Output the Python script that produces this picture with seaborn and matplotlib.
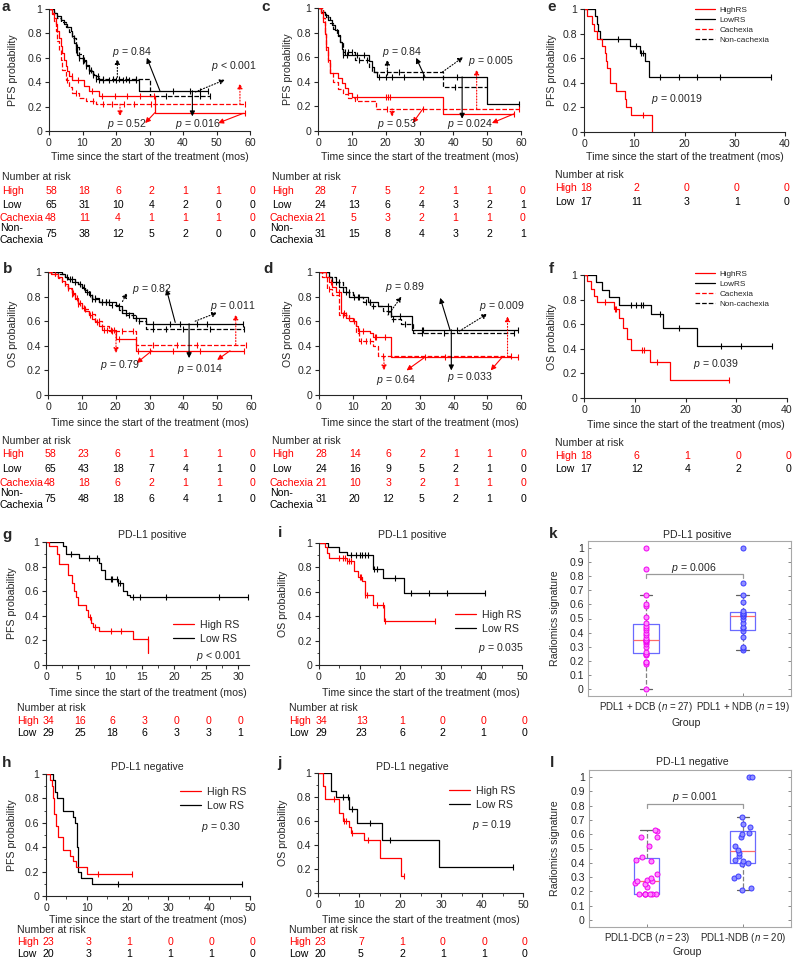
import numpy as np
import pandas as pd
import seaborn as sns
import matplotlib.pyplot as plt
from matplotlib.lines import Line2D
from matplotlib.transforms import blended_transform_factory, ScaledTranslation

# ---------------- data ----------------
# KM curve = (step times, survival after each step, last follow-up, censor times)
a_high = ([0, 1, 1.5, 2, 2.5, 3, 3.5, 4, 4.5, 5, 5.5, 6, 7, 10.5, 12, 15, 31.5],
          [1, .97, .93, .88, .82, .76, .70, .64, .58, .53, .49, .45, .42, .37, .33, .29, .145],
          58.5, [6.8, 8.7, 12.7, 15.7, 19.7, 23.2, 27.2, 31.3, 58.5])
a_cach = ([0, 1, 1.5, 2, 2.5, 3, 3.5, 4, 5, 6, 7, 9, 11, 14],
          [1, .96, .9, .82, .74, .66, .58, .5, .42, .36, .31, .27, .25, .22],
          58.5, [5.5, 8, 13, 16, 18.9, 22.4, 25.4, 30.4, 58.5])
a_low = ([0, 1.5, 2.5, 3.5, 4.5, 5.5, 6.5, 7, 7.5, 8, 8.5, 9, 10, 11, 12, 13, 14, 15, 27],
         [1, .97, .94, .91, .88, .85, .82, .78, .72, .66, .62, .6, .57, .53, .49, .46, .43, .415, .33],
         47.5, [8, 9, 10, 11, 12, 13, 14, 15, 16, 18, 20, 22, 24, 26, 37, 42, 45, 47.5])
a_non = ([0, 1.5, 2.5, 3.5, 5, 6, 7, 8, 9, 10, 11, 12, 13, 14, 15, 30],
         [1, .97, .93, .89, .85, .81, .76, .69, .63, .58, .54, .5, .47, .45, .43, .29],
         48, [7.5, 8.5, 10.5, 12.5, 14.5, 16, 19, 21, 23, 26, 35, 45, 48])

b_high = ([0, 1, 3, 4, 5, 6, 7, 8, 9, 10, 11, 12, 13, 14, 15, 16, 20, 26],
          [1, .98, .96, .93, .9, .87, .83, .79, .75, .71, .68, .65, .62, .59, .56, .53, .455, .36],
          58, [6, 7.5, 8.5, 9.5, 10.5, 12.5, 14.5, 16.5, 17.5, 18.5, 19.5, 21, 26.5, 30, 37, 45, 58])
b_cach = ([0, 2, 3, 4, 5, 6, 7, 8, 9, 10, 12, 14, 16, 18, 26],
          [1, .97, .95, .92, .89, .86, .82, .78, .74, .7, .66, .6, .56, .52, .41],
          58.5, [7, 9, 11, 13, 15, 19, 22, 25, 31, 38, 44, 58.5])
b_low = ([0, 4, 5, 6, 8, 9, 10, 11, 12, 13, 15, 20, 22, 25, 29],
         [1, .98, .96, .94, .92, .9, .87, .84, .81, .78, .76, .72, .67, .63, .58],
         57.5, [5.5, 7, 9.5, 11.5, 13, 14, 16, 17, 18, 21, 23, 26, 31, 36, 39, 44, 47, 57.5])
b_non = ([0, 3, 5, 6, 7, 9, 10, 11, 12, 13, 15, 18, 21, 23, 26, 29],
         [1, .98, .96, .94, .92, .9, .88, .85, .82, .79, .76, .73, .69, .65, .6, .54],
         58, [6.5, 8, 10.5, 12.5, 14, 16, 17, 19, 22, 24, 27, 31, 35, 40, 48, 58])

c_high = ([0, 1, 1.5, 2, 2.5, 3, 3.5, 6, 7, 8, 9, 10, 37],
          [1, .96, .89, .79, .68, .58, .47, .43, .39, .35, .31, .28, .14],
          58, [11.4, 20.2, 20.7, 21.2, 58])
c_cach = ([0, 1.5, 2, 2.5, 3, 3.5, 4.5, 6, 7.5, 9, 11, 17],
          [1, .92, .8, .66, .55, .47, .4, .34, .3, .27, .24, .18],
          59.5, [20.3, 30.9, 59.5])
c_low = ([0, 1, 2, 3, 4, 5, 6, 6.5, 7, 7.5, 15, 16, 16.5, 17.5, 50],
         [1, .97, .94, .9, .86, .82, .77, .72, .67, .62, .57, .52, .48, .44, .22],
         59.5, [7.5, 8.5, 11.5, 13.5, 18, 20, 22, 25.5, 31, 41, 59.5])
c_non = ([0, 1.5, 2.5, 3.5, 4.5, 5.5, 6.5, 7.5, 11, 15, 16, 37],
         [1, .97, .93, .88, .83, .78, .72, .64, .58, .52, .48, .36],
         50, [8, 9, 10, 12, 14.5, 20.5, 24, 40.5])

d_high = ([0, 2, 3, 4, 5, 6.5, 8, 10, 11, 11.5, 15, 16, 21.5],
          [1, .96, .92, .88, .84, .67, .63, .6, .56, .52, .5, .47, .31],
          59, [3.5, 6, 7.5, 9, 10.5, 11.8, 13, 16.5, 17, 19.5, 31.5, 37.5, 59])
d_cach = ([0, 1, 2.5, 4, 6, 9, 11, 12, 16, 17.5],
          [1, .96, .86, .81, .65, .6, .5, .44, .4, .32],
          57, [3, 7, 8, 12.5, 14, 15, 19, 57])
d_low = ([0, 3, 4, 6, 7, 9, 14.5, 17.5, 21.5, 27.5],
         [1, .96, .92, .88, .84, .8, .76, .72, .64, .53],
         59, [5, 8, 10.5, 12, 15, 20.5, 24, 30.5, 31, 41, 59])
d_non = ([0, 3, 5, 7, 8, 10, 13, 15, 19, 21.5, 24.5, 28],
         [1, .96, .92, .88, .84, .8, .76, .72, .68, .62, .58, .5],
         58, [6, 9, 11.5, 14, 16, 20.5, 22, 25.5, 30.5, 37, 58])

e_high = ([0, .5, 1.5, 2, 2.5, 3.5, 4.1, 4.3, 4.6, 5.1, 6.4, 8.1, 8.4, 9.4, 13.6],
          [1, .94, .88, .82, .76, .7, .64, .58, .52, .4, .335, .27, .2, .135, 0],
          13.6, [11.8])
e_low = ([0, 2.1, 2.5, 2.8, 3.1, 9.1, 11.1, 12.1, 12.9],
         [1, .94, .88, .82, .76, .7, .64, .58, .45],
         37.3, [6.8, 10.3, 11.4, 11.7, 15.1, 18.9, 22.4, 27, 37.3])

f_high = ([0, .5, 1.4, 2, 2.6, 5.9, 6.8, 7.6, 8.4, 9.2, 13.1, 17],
          [1, .95, .89, .83, .78, .72, .65, .57, .48, .39, .29, .15],
          28.5, [4.2, 6.1, 6.4, 11.5, 11.8, 14.3, 28.5])
f_low = ([0, 2.4, 3.6, 4.9, 6.8, 13.2, 15.6, 22.2],
         [1, .94, .88, .82, .76, .68, .57, .42],
         37, [9.3, 10.3, 11.2, 11.6, 14.9, 18.8, 27, 31, 37])

g_high = ([0, .4, 1.7, 2.1, 3.5, 4.1, 4.4, 4.7, 5.0, 6.3, 6.6, 7.0, 7.3, 8.2, 13.6, 16.0],
          [1, .97, .9, .82, .73, .67, .6, .55, .49, .45, .39, .34, .31, .28, .21, .1],
          16.0, [6.9, 7.6, 10.2, 11.7, 15.9])
g_low = ([0, 2.7, 3.1, 5.2, 8.2, 8.6, 9.2, 11.3, 12.1, 12.6, 13.1],
         [1, .97, .9, .87, .83, .77, .7, .67, .6, .57, .55],
         31.5, [3.9, 6.7, 8.0, 10.1, 10.3, 11.1, 11.3, 11.5, 13.6, 14.7, 18.8, 27, 31.5])

h_high = ([0, 1.0, 1.4, 1.8, 2.0, 2.5, 3.0, 4.1, 5.9, 6.5, 7.4, 10.1],
          [1, .95, .9, .8, .67, .57, .48, .38, .33, .29, .24, .18],
          21, [12.7, 21])
h_low = ([0, 1.8, 2.2, 2.6, 4.2, 6.7, 7.1, 7.5, 7.8, 7.9, 8.7, 11.2],
         [1, .95, .85, .8, .7, .65, .6, .4, .25, .2, .15, .1],
         48, [17.6, 48])

i_high = ([0, 1.5, 2.0, 2.5, 6.8, 8.5, 9.5, 10.5, 11.3, 13.2, 15.9],
          [1, .97, .92, .88, .85, .77, .72, .69, .57, .49, .36],
          28.5, [5, 6, 6.5, 7, 7.5, 8, 10.1, 10.4, 11.3, 11.7, 14.2, 15.7, 16.3, 28.5])
i_low = ([0, 2.3, 4.9, 7.0, 13.2, 15.8, 20.9],
         [1, .97, .93, .9, .79, .71, .59],
         41, [8, 9, 10, 10.7, 11.3, 12, 13.5, 14.2, 18.8, 22.7, 27, 31.5, 41])

j_high = ([0, 1.3, 1.8, 5.2, 6.0, 7.6, 8.0, 11.2, 15.0, 20.2],
          [1, .89, .78, .67, .6, .55, .5, .44, .29, .145],
          21, [4, 6.3, 6.8, 8.2, 12.3, 21])
j_low = ([0, 3.2, 4.4, 7.6, 9.6, 15.6, 29.4],
         [1, .85, .8, .7, .58, .44, .22],
         47.5, [6, 7.2, 8.2, 12.8, 17.6, 47.5])

# numbers at risk
a_risk = {'High': [58, 18, 6, 2, 1, 1, 0], 'Low': [65, 31, 10, 4, 2, 0, 0],
          'Cachexia': [48, 11, 4, 1, 1, 1, 0], 'Non': [75, 38, 12, 5, 2, 0, 0]}
b_risk = {'High': [58, 23, 6, 1, 1, 1, 0], 'Low': [65, 43, 18, 7, 4, 1, 0],
          'Cachexia': [48, 18, 6, 2, 1, 1, 0], 'Non': [75, 48, 18, 6, 4, 1, 0]}
c_risk = {'High': [28, 7, 5, 2, 1, 1, 0], 'Low': [24, 13, 6, 4, 3, 2, 1],
          'Cachexia': [21, 5, 3, 2, 1, 1, 0], 'Non': [31, 15, 8, 4, 3, 2, 1]}
d_risk = {'High': [28, 14, 6, 2, 1, 1, 0], 'Low': [24, 16, 9, 5, 2, 1, 0],
          'Cachexia': [21, 10, 3, 2, 1, 1, 0], 'Non': [31, 20, 12, 5, 2, 1, 0]}
e_risk = {'High': [18, 2, 0, 0, 0], 'Low': [17, 11, 3, 1, 0]}
f_risk = {'High': [18, 6, 1, 0, 0], 'Low': [17, 12, 4, 2, 0]}
g_risk = {'High': [34, 16, 6, 3, 0, 0, 0], 'Low': [29, 25, 18, 6, 3, 3, 1]}
i_risk = {'High': [34, 13, 1, 0, 0, 0], 'Low': [29, 23, 6, 2, 1, 0]}
h_risk = {'High': [23, 3, 1, 0, 0, 0], 'Low': [20, 3, 1, 1, 1, 0]}
j_risk = {'High': [23, 7, 1, 0, 0, 0], 'Low': [20, 5, 2, 1, 1, 0]}

# radiomics signature per group (k: PD-L1 positive, l: PD-L1 negative)
k_dcb = [0.0, .18, .19, .19, .24, .25, .25, .26, .30, .32, .33, .34, .35, .35, .36, .38,
         .40, .42, .43, .45, .47, .51, .59, .60, .67, .85, 1.0]
k_ndb = [.28, .29, .30, .37, .41, .43, .44, .47, .50, .52, .52, .53, .53, .54, .55, .62,
         .67, .75, 1.0]
l_dcb = [.18, .18, .18, .18, .18, .18, .18, .23, .25, .26, .27, .27, .28, .29, .32, .41,
         .42, .44, .52, .58, .58, .62, .63]
l_ndb = [.21, .22, .29, .31, .39, .40, .41, .42, .45, .47, .49, .52, .58, .60, .61, .65,
         .67, .72, 1.0, 1.0]
k_groups = ['PDL1 + DCB ($n$ = 27)', 'PDL1 + NDB ($n$ = 19)']
l_groups = ['PDL1-DCB ($n$ = 23)', 'PDL1-NDB ($n$ = 20)']

# ---------------- style ----------------
W, H = 793, 961
FS = 7.6
RED = '#ff0000'
BLK = '#000000'
XLAB = 'Time since the start of the treatment (mos)'

sns.set_style('ticks')
plt.rcParams['font.family'] = ['Liberation Sans', 'DejaVu Sans']
plt.rcParams['mathtext.fontset'] = 'custom'
plt.rcParams['mathtext.rm'] = 'Liberation Sans'
plt.rcParams['mathtext.it'] = 'Liberation Sans:italic'
plt.rcParams['axes.linewidth'] = 0.8

fig = plt.figure(figsize=(W / 100, H / 100), dpi=100)
NUM_SHIFT = ScaledTranslation(2 / 100, 0, fig.dpi_scale_trans)


def fx(x):
    return x / W


def fy(y):
    return 1 - y / H


def px_axes(l, t, r, b):
    return fig.add_axes([fx(l), fy(b), (r - l) / W, (b - t) / H])


def km(ax, curve, color, ls='-'):
    t, s, end, cens = curve
    x = list(t) + [end]
    y = list(s) + [s[-1]]
    sns.lineplot(x=x, y=y, ax=ax, color=color, linestyle=ls, linewidth=0.9,
                 drawstyle='steps-post', estimator=None, sort=False, legend=False)
    idx = np.searchsorted(t, cens, side='right') - 1
    ax.plot(cens, np.asarray(s)[idx], ls='none', marker='|', ms=4.5, mew=0.8,
            color=color, clip_on=False)


def km_frame(ax, xlim, xmax, step, ylabel, ylab_x, xlab_y, minor=False):
    ax.set_xlim(0, xlim)
    ax.set_ylim(0, 1)
    ax.set_xticks(np.arange(0, xmax + 0.01, step))
    ax.set_yticks(np.arange(0, 1.01, 0.2))
    ax.set_yticklabels(['0', '0.2', '0.4', '0.6', '0.8', '1'])
    if minor:
        ax.set_xticks(np.arange(0, xlim, step / 2), minor=True)
        ax.set_yticks(np.arange(0, 1.01, 0.1), minor=True)
    sns.despine(ax=ax)
    ax.tick_params(direction='out', length=3, width=0.8, labelsize=FS, pad=2)
    ax.tick_params(which='minor', direction='out', length=1.8, width=0.6)
    ax.set_xlabel('')
    ax.set_ylabel('')
    bb = ax.get_position()
    fig.text(bb.x0 + bb.width / 2, fy(xlab_y), XLAB, ha='center', va='center', fontsize=FS)
    fig.text(fx(ylab_x), bb.y0 + bb.height / 2, ylabel, rotation=90,
             ha='center', va='center', fontsize=FS)


def risk_table(ax, risk, cols, label_x, rows_y, head_y):
    tr = blended_transform_factory(ax.transData, fig.transFigure) + NUM_SHIFT
    fig.text(fx(label_x), fy(head_y), 'Number at risk', fontsize=FS, va='center')
    colors = {'High': RED, 'Low': BLK, 'Cachexia': RED, 'Non': BLK}
    for key, y in zip(risk, rows_y):
        c = colors[key]
        if key == 'Non':
            fig.text(fx(label_x - 2), fy(y - 6), 'Non-', fontsize=FS, va='center', color=c)
            fig.text(fx(label_x - 2), fy(y + 6), 'Cachexia', fontsize=FS, va='center', color=c)
        else:
            lx = label_x - 2 if key == 'Cachexia' else label_x
            fig.text(fx(lx), fy(y), key, fontsize=FS, va='center', color=c)
        for xv, n in zip(cols, risk[key]):
            ax.text(xv, fy(y), str(n), transform=tr, ha='center', va='center',
                    fontsize=FS, color=c)


def arrows(ax, items):
    for col, ls, tail, head in items:
        ax.annotate('', xy=head, xytext=tail,
                    arrowprops=dict(arrowstyle='-|>', color=RED if col == 'r' else BLK,
                                    lw=0.8, linestyle=ls, mutation_scale=7.5,
                                    shrinkA=0, shrinkB=0))


def ptexts(ax, items):
    for txt, x, y in items:
        ax.text(x, y, txt, fontsize=FS, ha='left', va='center')


def letter(ch, x, y):
    fig.text(fx(x), fy(y), ch, fontsize=11, fontweight='bold', va='baseline')


def legend_at(ax, items, left, top, fs, hl, lsp, pad=0.5):
    handles = [Line2D([], [], color=c, ls=ls, lw=0.9) for c, ls, _ in items]
    ax.legend(handles, [lab for _, _, lab in items], loc='upper left',
              bbox_to_anchor=(fx(left), fy(top)), bbox_transform=fig.transFigure,
              frameon=False, fontsize=fs, handlelength=hl, handletextpad=pad,
              labelspacing=lsp, borderpad=0, borderaxespad=0)


# ---------------- panels a-d: four curves ----------------
four_rows_top = [191, 205, 218, 234]
four_rows_bot = [454, 469, 483, 499]
cols60 = np.arange(0, 61, 10)

panels = [
    ('a', a_high, a_cach, a_low, a_non, a_risk, (49, 9, 250, 131), 'PFS probability', 13, 157,
     2, four_rows_top, 177, (1, 11)),
    ('b', b_high, b_cach, b_low, b_non, b_risk, (48, 272, 251, 395), 'OS probability', 13, 423,
     2, four_rows_bot, 441, (3, 273)),
    ('c', c_high, c_cach, c_low, c_non, c_risk, (318, 8, 521, 131), 'PFS probability', 288, 157,
     272, four_rows_top, 177, (261, 11)),
    ('d', d_high, d_cach, d_low, d_non, d_risk, (319, 272, 521, 395), 'OS probability', 288, 423,
     272, four_rows_bot, 441, (263, 273)),
]
arrow_sets = {
    'a': [('k', ':', (20.4, .44), (20.4, .59)), ('k', '-', (33.1, .33), (29.2, .6)),
          ('k', ':', (43.7, .32), (52.5, .42)), ('r', ':', (21.2, .22), (21.2, .12)),
          ('r', '-', (31.6, .15), (28.7, .065)), ('k', '-', (42.8, .33), (42.8, .12)),
          ('r', '-', (58, .145), (50.5, .065)), ('r', ':', (57, .22), (57, .39))],
    'b': [('k', ':', (22, .76), (23.4, .83)), ('k', '-', (37.6, .59), (35, .86)),
          ('k', ':', (43.5, .6), (50, .67)), ('r', ':', (20.1, .52), (20.1, .34)),
          ('r', '-', (30.7, .36), (26.2, .26)), ('k', '-', (41.7, .58), (41.7, .30)),
          ('r', '-', (53.8, .36), (50, .285)), ('r', ':', (55.5, .41), (55.5, .655))],
    'c': [('k', ':', (20.5, .48), (20.5, .58)), ('k', '-', (31.6, .44), (29, .595)),
          ('k', ':', (36.8, .48), (42.9, .6)), ('r', ':', (46.9, .18), (46.9, .5)),
          ('k', '-', (42.6, .44), (42.6, .1)), ('r', ':', (21.9, .18), (21.9, .115)),
          ('r', '-', (31, .18), (28, .065)), ('r', '-', (58, .14), (51.4, .065))],
    'd': [('k', ':', (20.5, .65), (24.5, .8)), ('k', '-', (38.9, .53), (36, .79)),
          ('k', ':', (41.7, .52), (50, .66)), ('r', ':', (56, .31), (56, .64)),
          ('k', '-', (39.3, .53), (39.3, .2)), ('r', ':', (19.3, .31), (19.3, .2)),
          ('r', '-', (31.6, .31), (26, .2)), ('r', '-', (54.5, .31), (51, .2))],
}
text_sets = {
    'a': [('$p$ = 0.84', 18.8, .65), ('$p$ < 0.001', 48.4, .53), ('$p$ = 0.52', 17.3, .06),
          ('$p$ = 0.016', 37.6, .06)],
    'b': [('$p$ = 0.82', 24.8, .86), ('$p$ = 0.011', 48, .72), ('$p$ = 0.79', 15.4, .245),
          ('$p$ = 0.014', 38, .21)],
    'c': [('$p$ = 0.84', 18.8, .645), ('$p$ = 0.005', 44.4, .57), ('$p$ = 0.53', 17.3, .06),
          ('$p$ = 0.024', 38, .06)],
    'd': [('$p$ = 0.89', 19.5, .88), ('$p$ = 0.009', 47.6, .72), ('$p$ = 0.64', 17, .12),
          ('$p$ = 0.033', 38, .15)],
}

for (name, hi, ca, lo, no, rk, box, ylab, ylx, xly, lab_x, rows, head, lpos) in panels:
    ax = px_axes(*box)
    km(ax, lo, BLK)
    km(ax, no, BLK, '--')
    km(ax, hi, RED)
    km(ax, ca, RED, '--')
    km_frame(ax, 60, 60, 10, ylab, ylx, xly)
    arrows(ax, arrow_sets[name])
    ptexts(ax, text_sets[name])
    risk_table(ax, rk, cols60, lab_x, rows, head)
    letter(name, *lpos)

# ---------------- panels e, f ----------------
ef_legend = [(RED, '-', 'HighRS'), (BLK, '-', 'LowRS'), (RED, '--', 'Cachexia'),
             (BLK, '--', 'Non-cachexia')]
for name, hi, lo, rk, box, ylab, xly, head, rows, ltop, ptxt, lpos in [
        ('e', e_high, e_low, e_risk, (584, 9, 785, 132), 'PFS probability', 157, 175,
         [188, 202], 6, ('$p$ = 0.0019', 13.3, .27), (547, 11)),
        ('f', f_high, f_low, f_risk, (584, 275, 787, 398), 'OS probability', 425, 443,
         [456, 469], 270, ('$p$ = 0.039', 21.5, .28), (549, 273))]:
    ax = px_axes(*box)
    km(ax, lo, BLK)
    km(ax, hi, RED)
    km_frame(ax, 40, 40, 10, ylab, 552, xly)
    legend_at(ax, ef_legend, 695, ltop, 5.9, 2.5, 0.3)
    ptexts(ax, [ptxt])
    risk_table(ax, rk, np.arange(0, 41, 10), 555, rows, head)
    letter(name, *lpos)

# ---------------- panels g-j: PD-L1 subgroups ----------------
gh_legend = [(RED, '-', 'High RS'), (BLK, '-', 'Low RS')]
for (name, hi, lo, rk, box, xlim, xmax, step, ylab, ylx, title, tpos, leg, ptxt,
     xly, head, rows, lab_x, lpos) in [
        ('g', g_high, g_low, g_risk, (46, 542, 249, 665), 31.7, 30, 5, 'PFS probability', 12,
         'PD-L1 positive', (152, 535), (173, 620), ('$p$ < 0.001', 242, 656), 693, 708,
         [721, 733], 17, (2, 539)),
        ('i', i_high, i_low, i_risk, (319, 543, 522, 665), 50, 50, 10, 'OS probability', 283,
         'PD-L1 positive', (412, 535), (455, 610), ('$p$ = 0.035', 524, 648), 693, 708,
         [721, 733], 289, (278, 537)),
        ('h', h_high, h_low, h_risk, (46, 774, 250, 896), 50, 50, 10, 'PFS probability', 12,
         'PD-L1 negative', (147, 767), (180, 787), ('$p$ = 0.30', 241, 827), 920, 930,
         [942, 954], 17, (2, 767)),
        ('j', j_high, j_low, j_risk, (318, 773, 523, 893), 50, 50, 10, 'OS probability', 283,
         'PD-L1 negative', (412, 767), (449, 786), ('$p$ = 0.19', 512, 825), 920, 930,
         [942, 954], 289, (277, 767))]:
    ax = px_axes(*box)
    km(ax, lo, BLK)
    km(ax, hi, RED)
    km_frame(ax, xlim, xmax, step, ylab, ylx, xly, minor=True)
    fig.text(fx(tpos[0]), fy(tpos[1]), title, ha='center', va='center', fontsize=FS)
    legend_at(ax, gh_legend, leg[0], leg[1], FS, 2.0, 0.38, 0.55)
    fig.text(fx(ptxt[1]), fy(ptxt[2]), ptxt[0], ha='right', va='center', fontsize=FS)
    risk_table(ax, rk, np.arange(0, xmax + 0.1, step), lab_x, rows, head)
    letter(name, *lpos)

# ---------------- panels k, l: box plots ----------------
np.random.seed(7)
for name, g1, g2, groups, box, jitter, ptxt, title, tpos, xly, lpos in [
        ('k', k_dcb, k_ndb, k_groups, (588, 541, 791, 696), False, '$p$ = 0.006',
         'PD-L1 positive', (697, 535), 723, (549, 538)),
        ('l', l_dcb, l_ndb, l_groups, (589, 770, 791, 927), 0.12, '$p$ = 0.001',
         'PD-L1 negative', (692, 762), 952, (550, 767))]:
    ax = px_axes(*box)
    df = pd.DataFrame({'group': [groups[0]] * len(g1) + [groups[1]] * len(g2),
                       'value': g1 + g2})
    sns.boxplot(data=df, x='group', y='value', order=groups, width=0.26, fill=False,
                color='#6a6aff', linewidth=0.9, showfliers=False,
                medianprops=dict(color='#ff6a6a'),
                whiskerprops=dict(color='#808080', linestyle='--'),
                capprops=dict(color='#606060'), ax=ax)
    for grp, face, edge in [(groups[0], '#ff8cff', '#f000f0'), (groups[1], '#9090ff', '#3a3aff')]:
        sns.stripplot(data=df[df['group'] == grp], x='group', y='value', order=groups,
                      color=face, edgecolor=edge, linewidth=0.7, size=3.6, jitter=jitter,
                      ax=ax)
    ax.plot([0, 0, 1, 1], [.785, .815, .815, .785], color='#9a9a9a', lw=0.9)
    ax.text(0.5, .86, ptxt, ha='center', va='center', fontsize=FS)
    ax.set_xlim(-0.6, 1.5)
    ax.set_ylim(-0.05, 1.05)
    ax.set_yticks(np.arange(0, 1.01, 0.1))
    ax.set_yticklabels(['0'] + ['%.1f' % v for v in np.arange(0.1, 0.95, 0.1)] + ['1'])
    ax.set_xticks([0, 1])
    ax.set_xticklabels([])
    ax.set_xlabel('')
    ax.set_ylabel('')
    for sp in ax.spines.values():
        sp.set_color('#a8a8a8')
        sp.set_linewidth(0.8)
    ax.tick_params(direction='in', length=2.5, width=0.7, labelsize=FS, pad=3,
                   color='#888888', right=True, top=False)
    tr = blended_transform_factory(ax.transData, fig.transFigure)
    for xv, lab in enumerate(groups):
        ax.text(xv, fy(box[3] + 11), lab, transform=tr, ha='center', va='center', fontsize=7.0)
    bb = ax.get_position()
    fig.text(bb.x0 + bb.width / 2 - fx(3), fy(xly), 'Group', ha='center', va='center', fontsize=FS)
    fig.text(fx(555), bb.y0 + bb.height / 2, 'Radiomics signature', rotation=90,
             ha='center', va='center', fontsize=FS)
    fig.text(fx(tpos[0]), fy(tpos[1]), title, ha='center', va='center', fontsize=FS)
    letter(name, *lpos)

fig.savefig('out.png', dpi=100)
